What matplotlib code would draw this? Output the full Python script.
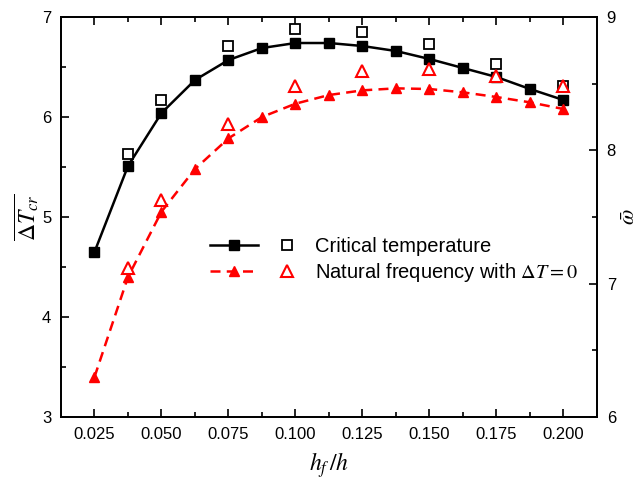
import numpy as np
import matplotlib
matplotlib.use("Agg")
import matplotlib.pyplot as plt
from matplotlib.legend_handler import HandlerTuple

plt.rcParams['font.family'] = ['Liberation Sans', 'DejaVu Sans']
plt.rcParams['mathtext.fontset'] = 'stix'

# thickness ratio
hf_h = [0.025, 0.0375, 0.05, 0.0625, 0.075, 0.0875, 0.1, 0.1125,
        0.125, 0.1375, 0.15, 0.1625, 0.175, 0.1875, 0.2]
# critical temperature (left axis), present solution
dT_cr = [4.65, 5.51, 6.04, 6.37, 6.57, 6.69, 6.74, 6.74,
         6.71, 6.66, 6.58, 6.49, 6.40, 6.28, 6.17]
# natural frequency (right axis), present solution
omega = [6.30, 7.05, 7.54, 7.86, 8.09, 8.25, 8.35, 8.415,
         8.45, 8.465, 8.46, 8.435, 8.40, 8.36, 8.31]

# reference points (open markers)
hf_ref = [0.0375, 0.05, 0.075, 0.1, 0.125, 0.15, 0.175, 0.2]
dT_ref = [5.63, 6.17, 6.71, 6.88, 6.85, 6.73, 6.53, 6.31]
omega_ref = [7.12, 7.63, 8.20, 8.48, 8.595, 8.61, 8.56, 8.48]

x_ticks = [0.025, 0.05, 0.075, 0.1, 0.125, 0.15, 0.175, 0.2]
x_labels = ["0.025", "0.050", "0.075", "0.100", "0.125", "0.150", "0.175", "0.200"]

fig = plt.figure(figsize=(6.4, 4.8), dpi=100)
ax = fig.add_axes([0.0953, 0.13125, 0.8375, 0.8333])
ax2 = ax.twinx()

red = '#ff0000'
l1, = ax.plot(hf_h, dT_cr, '-', color='black', lw=1.8,
              marker='s', ms=6.5, mfc='black', mec='black')
o1, = ax.plot(hf_ref, dT_ref, 's', ls='none', ms=6.5, mfc='white',
              mec='black', mew=1.3)
l2, = ax2.plot(hf_h, omega, '--', color=red, lw=1.8, dashes=(4, 2.5),
               marker='^', ms=7.5, mfc=red, mec=red)
o2, = ax2.plot(hf_ref, omega_ref, '^', ls='none', ms=8, mfc='white',
               mec=red, mew=1.5)

ax.set_xlim(0.0125, 0.2125)
ax.set_ylim(3, 7)
ax2.set_ylim(6, 9)

ax.set_xticks(x_ticks)
ax.set_xticklabels(x_labels)
ax.set_xticks(np.arange(0.0375, 0.2, 0.025), minor=True)
ax.set_yticks([3, 4, 5, 6, 7])
ax.set_yticks([3.5, 4.5, 5.5, 6.5], minor=True)
ax2.set_yticks([6, 7, 8, 9])
ax2.set_yticks([6.5, 7.5, 8.5], minor=True)

ax.tick_params(which='both', direction='in', top=True, right=False,
               labelsize=12, pad=7, width=1.2)
ax.tick_params(which='major', length=6)
ax.tick_params(which='minor', length=3.5)
ax2.tick_params(which='both', direction='in', labelsize=12, pad=7, width=1.2)
ax2.tick_params(which='major', length=6)
ax2.tick_params(which='minor', length=3.5)

for a in (ax, ax2):
    for s in a.spines.values():
        s.set_linewidth(1.3)

ax.set_xlabel(r'$h_f\,/h$', fontsize=17, labelpad=6)
ax.set_ylabel(r'$\overline{\Delta T_{cr}}$', fontsize=17, labelpad=1)
ax2.set_ylabel(r'$\bar{\omega}$', fontsize=16, labelpad=2)

ax.legend([(l1, o1), (l2, o2)],
          ['Critical temperature', r'Natural frequency with $\Delta T=0$'],
          handler_map={tuple: HandlerTuple(ndivide=None, pad=0.2)},
          handlelength=5.0, handletextpad=0.2, labelspacing=0.25,
          fontsize=14.5, frameon=False, loc='center left',
          bbox_to_anchor=(0.278, 0.391), borderpad=0, borderaxespad=0)

fig.savefig('out.png', dpi=100)
